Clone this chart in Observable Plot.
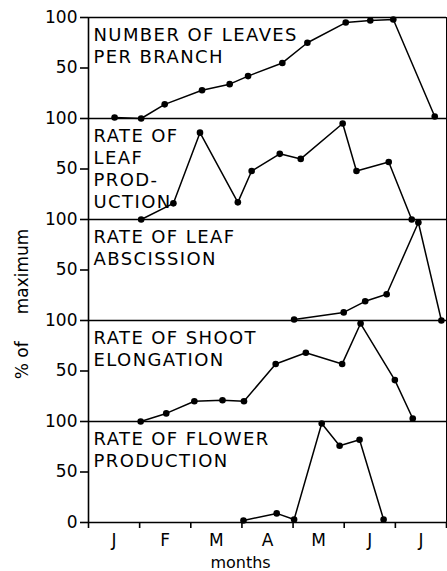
<!DOCTYPE html>
<html>
<head>
<meta charset="utf-8">
<script src="https://cdn.jsdelivr.net/npm/d3@7"></script>
<script src="https://cdn.jsdelivr.net/npm/@observablehq/plot@0.6"></script>
<style>
  html, body { margin: 0; padding: 0; background: #fff; overflow: hidden; }
</style>
</head>
<body>
<div id="chart"></div>
<script>
// ---- data (x in months from start of January, y in % of maximum) ----
const monthLabels = ["J", "F", "M", "A", "M", "J", "J"];
const monthEdges = [0, 1, 2, 3, 4, 5, 6, 7];
const monthMids = [0.5, 1.5, 2.5, 3.5, 4.5, 5.5, 6.5];

const yTicks = [0, 50, 100, 150, 200, 250, 300, 350, 400, 450, 500];
const yTickLabels = ["0", "50", "100", "50", "100", "50", "100", "50", "100", "50", "100"];

const panelTitles = [
  "NUMBER OF LEAVES\nPER BRANCH",
  "RATE OF\nLEAF\nPROD-\nUCTION",
  "RATE OF LEAF\nABSCISSION",
  "RATE OF SHOOT\nELONGATION",
  "RATE OF FLOWER\nPRODUCTION"
];

const leavesX = [0.51, 1.03, 1.49, 2.22, 2.76, 3.12, 3.79, 4.28, 5.03, 5.51, 5.96, 6.77];
const leavesY = [1, 0, 14, 28, 34, 42, 55, 75, 95, 97, 98, 2];

const leafProdX = [1.03, 1.66, 2.18, 2.92, 3.19, 3.74, 4.15, 4.97, 5.24, 5.87, 6.32];
const leafProdY = [0, 16, 86, 17, 48, 65, 60, 95, 48, 57, 0];

const abscissionX = [4.02, 4.99, 5.41, 5.83, 6.45, 6.90];
const abscissionY = [1, 8, 19, 26, 97, 0];

const shootX = [1.02, 1.52, 2.07, 2.62, 3.04, 3.66, 4.25, 4.96, 5.32, 5.99, 6.34];
const shootY = [0, 8, 20, 21, 20, 57, 68, 57, 97, 41, 3];

const flowerX = [3.03, 3.68, 4.02, 4.56, 4.91, 5.30, 5.77];
const flowerY = [2, 9, 3, 98, 76, 82, 3];

const yLabel = "%\u00a0of\u00a0\u00a0\u00a0\u00a0\u00a0maximum";
const xLabel = "months";

// ---- build table: panels stacked, each spans 100 units ----
const series = [
  [leavesX, leavesY],
  [leafProdX, leafProdY],
  [abscissionX, abscissionY],
  [shootX, shootY],
  [flowerX, flowerY]
];
const nPanels = series.length;
const rows = [];
series.forEach(([xs, ys], i) => {
  const offset = (nPanels - 1 - i) * 100;
  xs.forEach((x, j) => rows.push({panel: i, x, y: ys[j] + offset}));
});
const titles = panelTitles.map((t, i) => ({text: t, top: (nPanels - i) * 100}));
const boundaries = d3.range(0, nPanels + 1).map(i => i * 100);

const chart = Plot.plot({
  width: 447,
  height: 571,
  marginLeft: 88,
  marginRight: 1,
  marginTop: 17,
  marginBottom: 49,
  style: {fontFamily: "DejaVu Sans, sans-serif", fontSize: "17px", color: "black", background: "white"},
  x: {domain: [0, 7]},
  y: {domain: [0, 500]},
  marks: [
    Plot.ruleY(boundaries, {stroke: "black", strokeWidth: 1.6}),
    Plot.ruleX([0], {stroke: "black", strokeWidth: 1.6}),
    Plot.ruleX([7], {stroke: "black", strokeWidth: 1}),
    Plot.axisY({ticks: yTicks, tickFormat: d => yTickLabels[yTicks.indexOf(d)], tickSize: 8, tickPadding: 3, label: null, strokeWidth: 1.6}),
    Plot.axisX({ticks: monthEdges, tickFormat: () => "", tickSize: 6, label: null, strokeWidth: 1.6}),
    Plot.axisX({ticks: monthMids, tickFormat: d => monthLabels[Math.round(d - 0.5)], tickSize: 0, tickPadding: 11, label: null}),
    Plot.line(rows, {x: "x", y: "y", z: "panel", stroke: "black", strokeWidth: 1.5}),
    Plot.dot(rows, {x: "x", y: "y", r: 3.3, fill: "black"}),
    Plot.text(titles, {x: 0, y: "top", text: "text", textAnchor: "start", lineAnchor: "top", dx: 5, dy: 8, fontSize: 18, lineHeight: 1.22, fill: "black"}),
    Plot.text([yLabel], {text: d => d, frameAnchor: "left", rotate: -90, dx: -66, dy: 34, fontSize: 17, lineAnchor: "middle", textAnchor: "middle", fill: "black"}),
    Plot.text([xLabel], {text: d => d, frameAnchor: "bottom", dx: -27, dy: 40, fontSize: 16, lineAnchor: "middle", textAnchor: "middle", fill: "black"})
  ]
});

chart.querySelectorAll('g[font-size="18"] text').forEach(t => t.setAttribute("letter-spacing", "1.4"));
document.getElementById("chart").appendChild(chart);
</script>
</body>
</html>
